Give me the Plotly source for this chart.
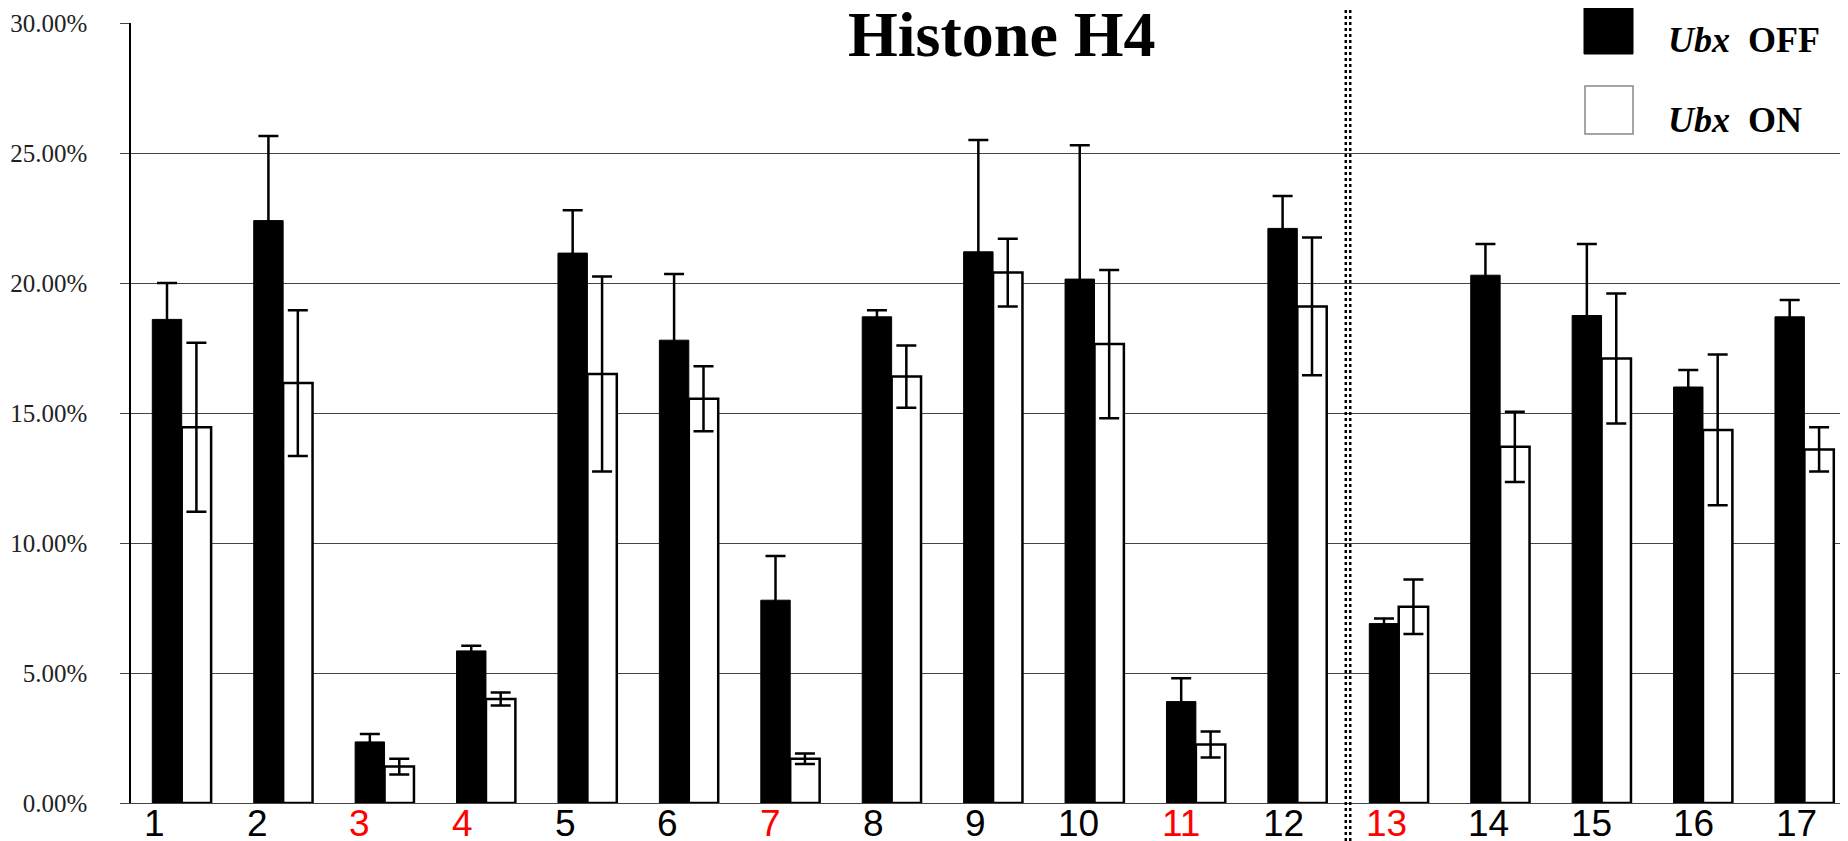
import plotly.graph_objects as go

# data (percent)
categories = [str(i) for i in range(1, 18)]
red_categories = ["3", "4", "7", "11", "13"]

off_values = [18.6, 22.4, 2.35, 5.85, 21.15, 17.8, 7.8, 18.7, 21.2, 20.15, 3.9, 22.1, 6.9, 20.3, 18.75, 16.0, 18.7]
off_errors = [1.4, 3.25, 0.3, 0.2, 1.65, 2.55, 1.7, 0.25, 4.3, 5.15, 0.9, 1.25, 0.2, 1.2, 2.75, 0.65, 0.65]
on_values = [14.45, 16.15, 1.4, 4.0, 16.5, 15.55, 1.7, 16.4, 20.4, 17.65, 2.25, 19.1, 7.55, 13.7, 17.1, 14.35, 13.6]
on_errors = [3.25, 2.8, 0.3, 0.25, 3.75, 1.25, 0.2, 1.2, 1.3, 2.85, 0.5, 2.65, 1.05, 1.35, 2.5, 2.9, 0.85]

y_ticks = [0, 5, 10, 15, 20, 25, 30]
divider_after = "12"

# page is 1848x841, the html body adds an 8px margin
BODY = 8
W, H = 1848 - BODY, 841 - BODY
PL, PR, PT, PB = 131, 1848, 23, 803  # plot area in page pixels
X_RANGE = [-0.5, 16.43]

SERIF = "Liberation Serif, Times New Roman, serif"
SANS = "Liberation Sans, Arial, sans-serif"


def px_x(px):
    return (px - PL) / (PR - PL)


def px_y(py):
    return (PB - py) / (PB - PT)


fig = go.Figure()
fig.add_trace(go.Bar(
    x=categories, y=off_values, name="Ubx OFF",
    marker=dict(color="black", line=dict(color="black", width=1)),
    error_y=dict(type="data", array=off_errors, color="black", thickness=2.5, width=10),
))
fig.add_trace(go.Bar(
    x=categories, y=on_values, name="Ubx ON",
    marker=dict(color="white", line=dict(color="black", width=2.5)),
    error_y=dict(type="data", array=on_errors, color="black", thickness=2.5, width=10),
))

fig.update_layout(
    width=W, height=H,
    margin=dict(l=PL - BODY, r=0, t=PT - BODY, b=H - (PB - BODY), pad=0),
    paper_bgcolor="white", plot_bgcolor="white",
    barmode="group", bargap=0.42, bargroupgap=0,
    showlegend=False,
)

fig.update_xaxes(
    type="category", range=X_RANGE, automargin=False,
    showticklabels=False, ticks="",
    showline=True, linecolor="#444", linewidth=1,
    showgrid=False,
)
fig.update_yaxes(
    range=[0, 30], tickvals=y_ticks, automargin=False,
    ticktext=[f"{v:.2f}%" for v in y_ticks],
    tickfont=dict(family=SERIF, size=25, color="#222"),
    ticks="outside", ticklen=9, tickcolor="#444", tickwidth=1,
    ticklabelstandoff=28,
    showgrid=True, gridcolor="#444", gridwidth=1,
    showline=True, linecolor="black", linewidth=1.5,
    zeroline=False,
)

# category labels: they sit left of each bar pair, less so towards the right
for i, c in enumerate(categories):
    colour = "red" if c in red_categories else "black"
    fig.add_annotation(
        text=c, xref="x", yref="paper", x=i, y=0,
        xanchor="center", yanchor="top", xshift=-27 + 1.2 * i, yshift=2,
        showarrow=False, font=dict(family=SANS, size=37, color=colour),
    )

# dotted divider between 12 and 13
idx = categories.index(divider_after) + 0.5
div_x = (idx - X_RANGE[0]) / (X_RANGE[1] - X_RANGE[0])
for dx in (-0.0013, 0.0013):
    fig.add_shape(
        type="line", xref="paper", yref="paper",
        x0=div_x + dx, x1=div_x + dx, y0=px_y(841), y1=px_y(0),
        line=dict(color="black", width=2.5, dash="dot"),
    )

# title
fig.add_annotation(
    text="<b>Histone H4</b>", xref="paper", yref="paper",
    x=px_x(1002), y=px_y(35), xanchor="center", yanchor="middle",
    showarrow=False, font=dict(family=SERIF, size=64, color="black"),
)

# legend
fig.add_shape(type="rect", xref="paper", yref="paper",
              x0=px_x(1584), x1=px_x(1633), y0=px_y(54), y1=px_y(5),
              fillcolor="black", line=dict(color="black", width=1))
fig.add_shape(type="rect", xref="paper", yref="paper",
              x0=px_x(1585), x1=px_x(1633), y0=px_y(134), y1=px_y(86),
              fillcolor="white", line=dict(color="#888", width=1.5))
for label, py in (("OFF", 40), ("ON", 120)):
    fig.add_annotation(
        text=f"<b><i>Ubx</i>\u00a0 {label}</b>", xref="paper", yref="paper",
        x=px_x(1666), y=px_y(py), xanchor="left", yanchor="middle",
        showarrow=False, font=dict(family=SERIF, size=36, color="black"),
    )

fig.write_html("out.html")
